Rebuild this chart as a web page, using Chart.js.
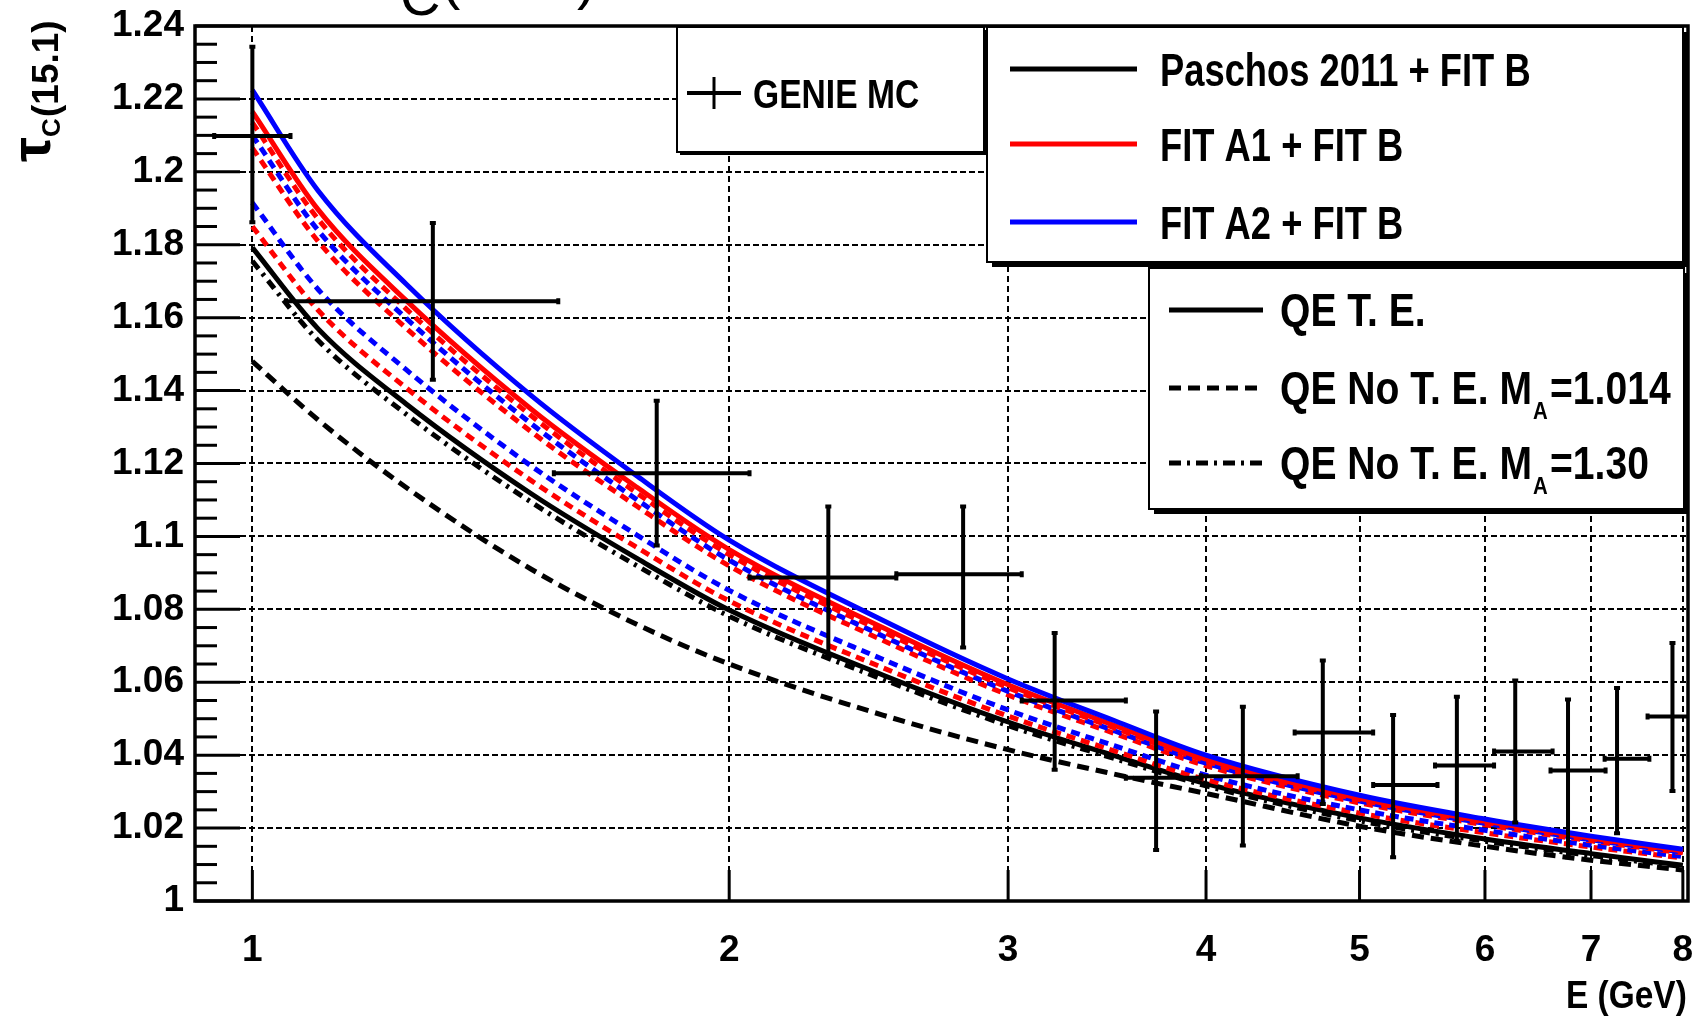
<!DOCTYPE html>
<html><head><meta charset="utf-8">
<script src="https://cdn.jsdelivr.net/npm/chart.js@4.4.1/dist/chart.umd.min.js"></script>
<style>html,body{margin:0;padding:0;background:#fff;}canvas{display:block;}</style>
</head><body>
<canvas id="c" width="1699" height="1018"></canvas>
<script>
// ---------------- data ----------------
const energyGeV = [1, 1.1, 1.25, 1.5, 1.75, 2, 2.5, 3, 3.5, 4, 5, 6, 7, 8];

const fitA2FitB     = [1.2224, 1.1949, 1.1693, 1.1386, 1.1165, 1.0990, 1.0770, 1.0609, 1.0495, 1.0400, 1.0290, 1.0225, 1.0178, 1.0142];
const fitA1FitB     = [1.2165, 1.1897, 1.1648, 1.1349, 1.1134, 1.0964, 1.0750, 1.0593, 1.0482, 1.0389, 1.0282, 1.0219, 1.0173, 1.0138];
const fitA1Band1    = [1.2135, 1.1871, 1.1625, 1.1331, 1.1118, 1.0950, 1.0739, 1.0585, 1.0475, 1.0384, 1.0278, 1.0216, 1.0171, 1.0136];
const fitA2Band1    = [1.2100, 1.1840, 1.1599, 1.1309, 1.1100, 1.0935, 1.0727, 1.0575, 1.0467, 1.0378, 1.0274, 1.0213, 1.0168, 1.0134];
const fitA1Band2    = [1.2065, 1.1810, 1.1572, 1.1287, 1.1082, 1.0919, 1.0715, 1.0565, 1.0460, 1.0371, 1.0269, 1.0209, 1.0165, 1.0132];
const fitA2Band2    = [1.1915, 1.1678, 1.1458, 1.1193, 1.1003, 1.0852, 1.0663, 1.0524, 1.0426, 1.0345, 1.0250, 1.0194, 1.0153, 1.0122];
const fitA1Band3    = [1.1850, 1.1621, 1.1408, 1.1153, 1.0969, 1.0823, 1.0640, 1.0507, 1.0412, 1.0333, 1.0241, 1.0187, 1.0148, 1.0118];
const qeTE          = [1.1792, 1.1570, 1.1364, 1.1117, 1.0939, 1.0798, 1.0620, 1.0491, 1.0399, 1.0322, 1.0228, 1.0170, 1.0130, 1.0098];
const qeNoTE_MA1300 = [1.1755, 1.1538, 1.1336, 1.1094, 1.0919, 1.0781, 1.0608, 1.0481, 1.0391, 1.0316, 1.0220, 1.0164, 1.0125, 1.0094];
const qeNoTE_MA1014 = [1.1480, 1.1320, 1.1135, 1.0910, 1.0758, 1.0650, 1.0510, 1.0415, 1.0348, 1.0295, 1.0205, 1.0150, 1.0112, 1.0085];

// GENIE MC points with x (bin) and y errors
const genieE     = [1.00, 1.30, 1.80, 2.31, 2.81, 3.21, 3.72, 4.22, 4.74, 5.25, 5.76, 6.27, 6.77, 7.27, 7.88];
const genieELow  = [0.946, 1.05, 1.55, 2.06, 2.55, 3.06, 3.56, 3.97, 4.55, 5.10, 5.58, 6.08, 6.60, 7.14, 7.60];
const genieEHigh = [1.057, 1.56, 2.06, 2.55, 3.06, 3.56, 3.97, 4.57, 5.10, 5.60, 6.08, 6.62, 7.15, 7.62, 8.16];
const genieY     = [1.2098, 1.1645, 1.1173, 1.0887, 1.0896, 1.0550, 1.0338, 1.0342, 1.0462, 1.0318, 1.0372, 1.0410, 1.0358, 1.0390, 1.0506];
const genieYLow  = [1.1862, 1.1430, 1.0975, 1.0673, 1.0695, 1.0360, 1.0140, 1.0152, 1.0266, 1.0120, 1.0165, 1.0215, 1.0120, 1.0186, 1.0302];
const genieYHigh = [1.2343, 1.1860, 1.1372, 1.1082, 1.1082, 1.0735, 1.0520, 1.0533, 1.0660, 1.0510, 1.0560, 1.0605, 1.0553, 1.0584, 1.0708];

const xTickValues = [1, 2, 3, 4, 5, 6, 7, 8];
const xTickLabels = ['1', '2', '3', '4', '5', '6', '7', '8'];
const yTickValues = [1, 1.02, 1.04, 1.06, 1.08, 1.1, 1.12, 1.14, 1.16, 1.18, 1.2, 1.22, 1.24];
const yTickLabels = ['1', '1.02', '1.04', '1.06', '1.08', '1.1', '1.12', '1.14', '1.16', '1.18', '1.2', '1.22', '1.24'];

const legendGenie = 'GENIE MC';
const legendFits = ['Paschos 2011 + FIT B', 'FIT A1 + FIT B', 'FIT A2 + FIT B'];
const legendQE = ['QE T. E.', 'QE No T. E. M', 'QE No T. E. M'];
const legendQEValues = ['', '=1.014', '=1.30'];
const xTitle = 'E (GeV)';

// ---------------- helpers ----------------
const FONT = '"Liberation Sans", Arial, Helvetica, sans-serif';
const pts = arr => energyGeV.map((e, i) => ({x: e, y: arr[i]}));
const RED = '#ff0000', BLUE = '#0000ff', BLACK = '#000000';
function curve(label, arr, color, dash, order) {
  return {label, data: pts(arr), borderColor: color, backgroundColor: color, borderWidth: 5,
    borderDash: dash, pointRadius: 0, fill: false, cubicInterpolationMode: 'monotone',
    borderCapStyle: 'butt', order};
}

const rootFrame = {
  id: 'rootFrame',
  beforeDatasetsDraw(chart) {
    const {ctx, chartArea: a, scales: {x, y}} = chart;
    ctx.save();
    ctx.strokeStyle = '#000';
    // grid
    ctx.lineWidth = 2;
    ctx.setLineDash([6, 3]);
    yTickValues.forEach(v => {
      const py = Math.round(y.getPixelForValue(v));
      if (py > a.top + 3 && py < a.bottom - 3) { ctx.beginPath(); ctx.moveTo(a.left, py); ctx.lineTo(a.right, py); ctx.stroke(); }
    });
    ctx.setLineDash([6, 4]);
    xTickValues.forEach(v => {
      const px = Math.round(x.getPixelForValue(v));
      if (px > a.left + 3 && px < a.right - 3) { ctx.beginPath(); ctx.moveTo(px, a.top); ctx.lineTo(px, a.bottom); ctx.stroke(); }
    });
    ctx.setLineDash([]);
    // y ticks (major + minor), drawn inward
    ctx.lineWidth = 3;
    for (let k = 0; k <= 48; k++) {
      const v = 1 + k * 0.005;
      const py = y.getPixelForValue(v);
      const len = (k % 4 === 0) ? 45 : 22;
      ctx.beginPath(); ctx.moveTo(a.left, py); ctx.lineTo(a.left + len, py); ctx.stroke();
    }
    // x ticks
    xTickValues.forEach(v => {
      const px = x.getPixelForValue(v);
      ctx.beginPath(); ctx.moveTo(px, a.bottom); ctx.lineTo(px, a.bottom - 31); ctx.stroke();
    });
    ctx.restore();
  },
  afterDatasetsDraw(chart) {
    const {ctx, chartArea: a, scales: {x, y}} = chart;
    ctx.save();
    ctx.beginPath(); ctx.rect(a.left, a.top, a.right - a.left, a.bottom - a.top); ctx.clip();
    ctx.strokeStyle = '#000';
    ctx.lineWidth = 4;
    genieE.forEach((e, i) => {
      const px = x.getPixelForValue(e), py = y.getPixelForValue(genieY[i]);
      const xl = x.getPixelForValue(genieELow[i]), xh = x.getPixelForValue(genieEHigh[i]);
      const yl = y.getPixelForValue(genieYLow[i]), yh = y.getPixelForValue(genieYHigh[i]);
      ctx.beginPath();
      ctx.moveTo(xl, py); ctx.lineTo(xh, py);
      ctx.moveTo(px, yl); ctx.lineTo(px, yh);
      ctx.moveTo(xl, py - 3); ctx.lineTo(xl, py + 3);
      ctx.moveTo(xh, py - 3); ctx.lineTo(xh, py + 3);
      ctx.moveTo(px - 3, yl); ctx.lineTo(px + 3, yl);
      ctx.moveTo(px - 3, yh); ctx.lineTo(px + 3, yh);
      ctx.stroke();
    });
    ctx.restore();
    // frame
    ctx.save();
    ctx.strokeStyle = '#000';
    ctx.lineWidth = 3.5;
    ctx.strokeRect(a.left, a.top, a.right - a.left, a.bottom - a.top);
    ctx.restore();
  },
  afterDraw(chart) {
    const {ctx} = chart;
    ctx.save();
    ctx.fillStyle = '#000';
    ctx.strokeStyle = '#000';
    function box(l, t, r, b, sh) {
      ctx.fillStyle = '#000';
      ctx.fillRect(l + sh, b, r - l, sh);
      ctx.fillRect(r, t + sh, sh, b - t);
      ctx.fillStyle = '#fff';
      ctx.fillRect(l, t, r - l, b - t);
      ctx.lineWidth = 2;
      ctx.strokeRect(l, t, r - l, b - t);
      ctx.fillStyle = '#000';
    }
    function text(str, xx, yy, size, sx) {
      ctx.save();
      ctx.font = 'bold ' + size + 'px ' + FONT;
      ctx.textBaseline = 'alphabetic';
      ctx.translate(xx, yy); ctx.scale(sx, 1);
      ctx.fillText(str, 0, 0);
      const w = ctx.measureText(str).width * sx;
      ctx.restore();
      return w;
    }
    function seg(x1, y1, x2, y2, color, dash, w) {
      ctx.save(); ctx.strokeStyle = color; ctx.lineWidth = w; ctx.setLineDash(dash);
      ctx.beginPath(); ctx.moveTo(x1, y1); ctx.lineTo(x2, y2); ctx.stroke(); ctx.restore();
    }
    // legend: GENIE
    box(677, 27, 984, 152, 3);
    seg(687, 93, 741, 93, BLACK, [], 4);
    seg(714, 77, 714, 109, BLACK, [], 3);
    text(legendGenie, 753, 108, 40, 0.84);
    // legend: fits
    box(987, 27, 1683, 262, 5);
    const fitColors = [BLACK, RED, BLUE];
    const fitY = [69, 144, 222];
    fitY.forEach((yy, i) => {
      seg(1010, yy, 1137, yy, fitColors[i], [], 5);
      text(legendFits[i], 1160, yy + 17, 46, 0.79);
    });
    // legend: QE
    box(1149, 268, 1684, 509, 5);
    const qeDash = [[], [12, 7], [12, 6, 3, 6]];
    const qeY = [310, 388, 463];
    qeY.forEach((yy, i) => {
      seg(1169, yy, 1263, yy, BLACK, qeDash[i], 5);
      const w = text(legendQE[i], 1280, yy + 16, 46, 0.85);
      if (legendQEValues[i]) {
        text('A', 1280 + w + 1, yy + 31, 24, 0.85);
        text(legendQEValues[i], 1280 + w + 18, yy + 16, 46, 0.85);
      }
    });
    // axis titles
    text(xTitle, 1566, 1008, 38, 0.88);
    ctx.save();
    ctx.translate(58, 162); ctx.rotate(-Math.PI / 2);
    ctx.font = 'bold 56px ' + FONT; ctx.fillText('τ', 0, -8);
    ctx.font = 'bold 26px ' + FONT; ctx.fillText('C', 25, 2);
    ctx.font = 'bold 37px ' + FONT; ctx.fillText('(15.1)', 45, 0);
    ctx.restore();
    // clipped title at the very top
    ctx.font = '56px ' + FONT; ctx.fillText('C', 400, 15);
    ctx.font = '58px ' + FONT; ctx.fillText('(', 441, -2); ctx.fillText('15.1', 470, -2); ctx.fillText(')', 577, -2);
    ctx.restore();
  }
};

new Chart(document.getElementById('c'), {
  type: 'line',
  data: {
    datasets: [
      curve('FIT A2 + FIT B', fitA2FitB, BLUE, [], 0),
      curve('FIT A1 + FIT B', fitA1FitB, RED, [], 1),
      curve('FIT A1 band 1', fitA1Band1, RED, [9, 6], 2),
      curve('FIT A2 band 1', fitA2Band1, BLUE, [9, 6], 3),
      curve('FIT A1 band 2', fitA1Band2, RED, [9, 6], 4),
      curve('FIT A2 band 2', fitA2Band2, BLUE, [9, 6], 5),
      curve('FIT A1 band 3', fitA1Band3, RED, [9, 6], 6),
      curve('QE T. E.', qeTE, BLACK, [], 7),
      curve('QE No T. E. MA=1.30', qeNoTE_MA1300, BLACK, [10, 6, 3, 6], 8),
      curve('QE No T. E. MA=1.014', qeNoTE_MA1014, BLACK, [12, 7], 9),
      {type: 'scatter', label: 'GENIE MC', data: genieE.map((e, i) => ({x: e, y: genieY[i]})),
       pointRadius: 0, showLine: false, borderColor: BLACK, backgroundColor: BLACK, order: -1}
    ]
  },
  options: {
    responsive: false, animation: false, devicePixelRatio: 1,
    layout: {padding: {left: 0, top: 26, right: 11, bottom: 0}},
    plugins: {legend: {display: false}, tooltip: {enabled: false}, title: {display: false}},
    scales: {
      x: {
        type: 'logarithmic', min: 0.92, max: 8.06,
        grid: {display: false, drawTicks: false}, border: {display: false},
        afterBuildTicks: s => { s.ticks = xTickValues.map(v => ({value: v})); },
        afterFit: s => { s.height = 117; s.paddingLeft = 0; s.paddingRight = 0; },
        ticks: {autoSkip: false, maxRotation: 0, padding: 28, color: '#000',
          font: {family: FONT, size: 37, weight: 'bold'},
          callback: (v, i) => xTickLabels[i]}
      },
      y: {
        type: 'linear', min: 1, max: 1.24,
        grid: {display: false, drawTicks: false}, border: {display: false},
        afterBuildTicks: s => { s.ticks = yTickValues.map(v => ({value: v})); },
        afterFit: s => { s.width = 195; s.paddingTop = 0; s.paddingBottom = 0; },
        ticks: {autoSkip: false, padding: 11, color: '#000',
          font: {family: FONT, size: 37, weight: 'bold'},
          callback: (v, i) => yTickLabels[i]}
      }
    }
  },
  plugins: [rootFrame]
});
</script>
</body></html>
